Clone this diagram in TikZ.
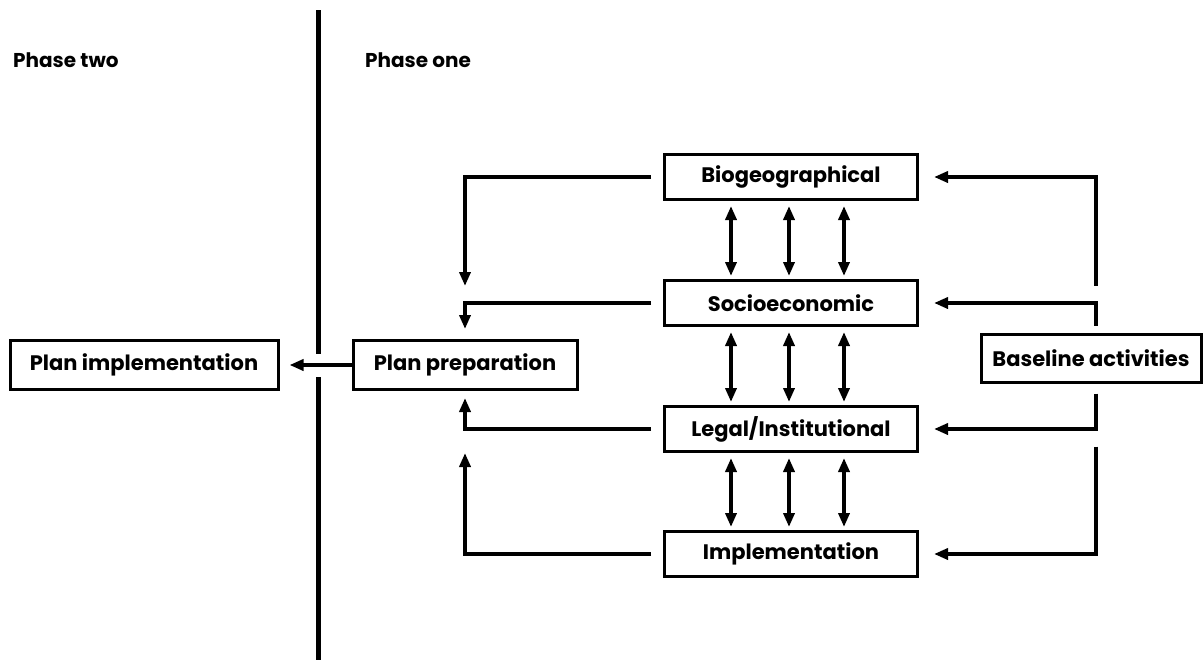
\documentclass[tikz,border=0pt]{standalone}
\usepackage{fontspec}
\setmainfont{Poppins}
\usetikzlibrary{arrows.meta}

\begin{document}
\begin{tikzpicture}[x=1pt, y=-1pt,
    stage/.style={draw, line width=3pt, minimum width=253pt, minimum height=45pt, inner sep=0pt, font=\fontsize{21}{24}\selectfont\bfseries},
    plan/.style={stage, minimum height=49pt},
    heading/.style={anchor=west, inner sep=0pt, font=\fontsize{20}{24}\selectfont\bfseries},
    flow/.style={-{Triangle[length=14pt,width=11pt]}, line width=3.5pt},
    link/.style={{Triangle[length=14pt,width=11pt]}-{Triangle[length=14pt,width=11pt]}, line width=3.5pt, shorten <=5pt, shorten >=3pt}
  ]
  \useasboundingbox (0,0) rectangle (1203,664);

  \node[heading] (two) at (13,60) {Phase two};
  \node[heading] (one) at (365,60) {Phase one};

  \node[stage] (bio) at (791,177) {Biogeographical};
  \node[stage] (socio) at (791,303) {Socioeconomic};
  \node[stage] (legal) at (791,429) {Legal/Institutional};
  \node[stage] (impl) at (791,554) {Implementation};
  \node[plan, minimum width=268pt] (planimpl) at (144,365) {Plan implementation};
  \node[plan, minimum width=224pt] (prep) at (465,365) {Plan preparation};
  \node[plan, minimum width=220pt, minimum height=48pt] (base) at (1091,358) {Baseline activities};

  % phase divider
  \draw[line width=5pt] (318,10) -- (318,354);
  \draw[line width=5pt] (318,377) -- (318,660);

  \draw[flow, shorten >=10pt] (prep.west) -- (prep.west -| planimpl.east);

  \foreach \a/\b in {bio/socio, socio/legal, legal/impl}
    \foreach \dx in {-60,-2,53}
      \draw[link] ([xshift=\dx pt]\a.south) -- ([xshift=\dx pt]\b.north);

  % to plan preparation
  \draw[flow, shorten <=12pt] (bio.west) -| ([yshift=53pt]prep.north);
  \draw[flow, shorten <=12pt] (socio.west) -| ([yshift=10pt]prep.north);
  \draw[flow, shorten <=12pt] (legal.west) -| ([yshift=-7pt]prep.south);
  \draw[flow, shorten <=12pt] (impl.west) -| ([yshift=-62pt]prep.south);

  % from baseline activities
  \draw[flow, shorten >=15pt] ([xshift=5pt,yshift=47pt]base.north) |- (bio.east);
  \draw[flow, shorten >=15pt] ([xshift=5pt,yshift=7pt]base.north) |- (socio.east);
  \draw[flow, shorten >=15pt] ([xshift=5pt,yshift=-10pt]base.south) |- (legal.east);
  \draw[flow, shorten >=15pt] ([xshift=5pt,yshift=-63pt]base.south) |- (impl.east);
\end{tikzpicture}
\end{document}
